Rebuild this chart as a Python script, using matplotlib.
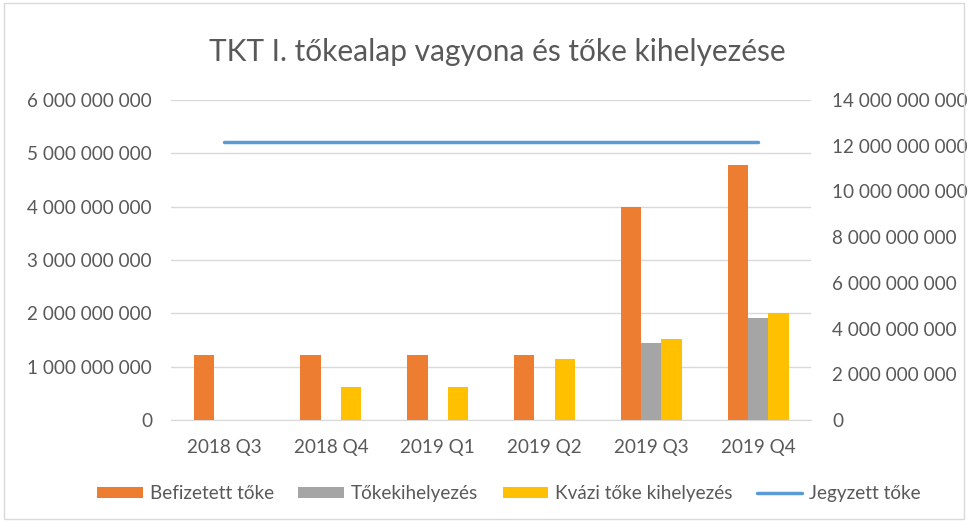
import matplotlib
matplotlib.use("Agg")
import matplotlib.pyplot as plt
import numpy as np
from matplotlib.patches import Rectangle
from matplotlib.ticker import FuncFormatter

plt.rcParams['font.family'] = ['Lato', 'DejaVu Sans']

categories = ["2018 Q3", "2018 Q4", "2019 Q1", "2019 Q2", "2019 Q3", "2019 Q4"]
befizetett = [1.21e9, 1.21e9, 1.21e9, 1.21e9, 4.00e9, 4.79e9]
tokekihelyezes = [0, 0, 0, 0, 1.44e9, 1.91e9]
kvazi = [0, 0.61e9, 0.61e9, 1.14e9, 1.51e9, 2.01e9]
jegyzett = [12.18e9] * 6

left_ticks = np.arange(0, 6e9 + 1, 1e9)
right_ticks = np.arange(0, 14e9 + 1, 2e9)

text_color = "#595959"
fs = 13.6

def fmt(v, pos=None):
    return f"{int(round(v)):,}".replace(",", " ")

fig = plt.figure(figsize=(9.68, 5.22), dpi=100)
fig.patches.append(Rectangle((0.004, 0.006), 0.992, 0.988, transform=fig.transFigure,
                             fill=False, edgecolor="#d9d9d9", linewidth=1.0))
ax = fig.add_axes([0.1763, 0.1954, 0.662, 0.613])
ax2 = ax.twinx()

x = np.arange(len(categories))
w = 0.19
b1 = ax.bar(x - w, befizetett, w, color="#ED7D31", label="Befizetett tőke", zorder=3)
b2 = ax.bar(x, tokekihelyezes, w, color="#A5A5A5", label="Tőkekihelyezés", zorder=3)
b3 = ax.bar(x + w, kvazi, w, color="#FFC000", label="Kvázi tőke kihelyezés", zorder=3)
l1, = ax2.plot(x, jegyzett, color="#5B9BD5", linewidth=2.5, label="Jegyzett tőke",
               solid_capstyle="round")

ax.set_xlim(-0.5, len(categories) - 0.5)
ax.set_ylim(0, 6e9)
ax2.set_ylim(0, 14e9)
ax.set_yticks(left_ticks)
ax2.set_yticks(right_ticks)
ax.yaxis.set_major_formatter(FuncFormatter(fmt))
ax2.yaxis.set_major_formatter(FuncFormatter(fmt))
ax.set_xticks(x)
ax.set_xticklabels(categories)

ax.grid(axis="y", color="#d9d9d9", linewidth=1.0, zorder=0)
ax.set_axisbelow(True)
for a in (ax, ax2):
    for s in a.spines.values():
        s.set_visible(False)
ax.spines["bottom"].set_visible(True)
ax.spines["bottom"].set_color("#d9d9d9")
ax.tick_params(axis="both", length=0, colors=text_color, labelsize=fs)
ax.tick_params(axis="y", pad=13.5)
ax.tick_params(axis="x", pad=14)
ax2.tick_params(axis="y", length=0, colors=text_color, labelsize=fs, pad=15)

fig.text(0.514, 0.90, "TKT I. tőkealap vagyona és tőke kihelyezése", ha="center", va="center",
         fontsize=21.5, color=text_color)

fig.legend(handles=[b1, b2, b3, l1], loc="center", bbox_to_anchor=(0.526, 0.054), ncol=4,
           frameon=False, fontsize=fs, labelcolor=text_color, handlelength=2.4,
           handleheight=0.5, handletextpad=0.37, columnspacing=1.3)

fig.savefig("out.png", dpi=100)
